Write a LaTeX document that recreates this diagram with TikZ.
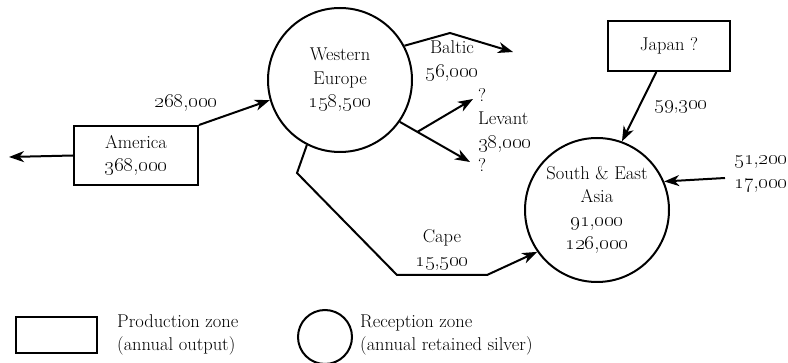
\documentclass[tikz,border=0pt]{standalone}
\usepackage{tikz}
\usetikzlibrary{arrows.meta, calc, positioning}

\newcommand{\onum}[2]{{\fontsize{20.5}{23.5}\selectfont\oldstylenums{#1},\oldstylenums{#2}}}

\tikzset{
    prodzone/.style={draw, line width=2pt, rectangle, align=center, inner sep=0pt},
    recvzone/.style={draw, line width=2pt, circle, align=center, inner sep=0pt, minimum size=144pt},
    flow/.style={line width=2pt, -{Stealth[length=15pt, width=11pt, inset=4.5pt]}},
    lbl/.style={inner sep=0pt, align=center}
}

\begin{document}
\begin{tikzpicture}[x=1pt, y=-1pt, font=\fontsize{18.5}{23.5}\selectfont]
    \useasboundingbox (0,0) rectangle (788,363);

    % 1. Production zones (boxes) and reception zones (circles)
    \node[prodzone, minimum width=124pt, minimum height=59pt] (america) at (136,155.5) {America\\\onum{368}{000}};
    \node[prodzone, minimum width=122pt, minimum height=50pt] (japan) at (669,46) {Japan ?};
    \node[recvzone] (we) at (340,80) {Western\\Europe\\\onum{158}{500}};
    \node[recvzone] (sea) at (597,210) {South \& East\\Asia\\\onum{91}{000}\\\onum{126}{000}};

    % 2. Free ends of the flows
    \coordinate (westend) at (9,157);
    \coordinate (balticbend) at (450,33);
    \coordinate (balticend) at (513,52);
    \coordinate (levantlow) at (470,162);
    \coordinate (levanthigh) at (473,99);
    \coordinate (capebend1) at (297,173);
    \coordinate (capebend2) at (397,275);
    \coordinate (capebend3) at (487,275);
    \coordinate (pacific) at (725,178);

    % 3. Flows of silver
    \draw[flow] (america.west) -- (westend);
    \draw[flow] (america.north east) -- (we.196);
    \draw[flow] (we.28) -- (balticbend) -- (balticend);
    \draw[flow] (we.-35) -- coordinate[pos=0.25] (levantsplit) (levantlow);
    \draw[flow] (levantsplit) -- (levanthigh);
    \draw[flow] (we.-117) -- (capebend1) -- (capebend2) -- (capebend3) -- (sea.215);
    \draw[flow] (japan.244) -- (sea.70);
    \draw[flow] (pacific) -- (sea.23);

    % 4. Flow labels
    \node[lbl] (amlbl) at (186,103) {\onum{268}{000}};
    \node[lbl] (baltlbl) at (452,61) {Baltic\\\onum{56}{000}};
    \node[lbl, align=left, anchor=west] (levlbl) at (478,130) {?\\Levant\\\onum{38}{000}\\?};
    \node[lbl] (caplbl) at (442,250) {Cape\\\onum{15}{500}};
    \node[lbl] (japlbl) at (681,107) {\onum{59}{300}};
    \node[lbl] (paclbl) at (761,174) {\onum{51}{200}\\\onum{17}{000}};

    % 5. Legend
    \node[prodzone, minimum width=81pt, minimum height=36pt] (keybox) at (56.5,335) {};
    \node[lbl, align=left, anchor=west] (keyboxtxt) at (117,335) {Production zone\\(annual output)};
    \node[recvzone, minimum size=54pt] (keycirc) at (325,337) {};
    \node[lbl, align=left, anchor=west] (keycirctxt) at (360,335) {Reception zone\\(annual retained silver)};

\end{tikzpicture}
\end{document}
